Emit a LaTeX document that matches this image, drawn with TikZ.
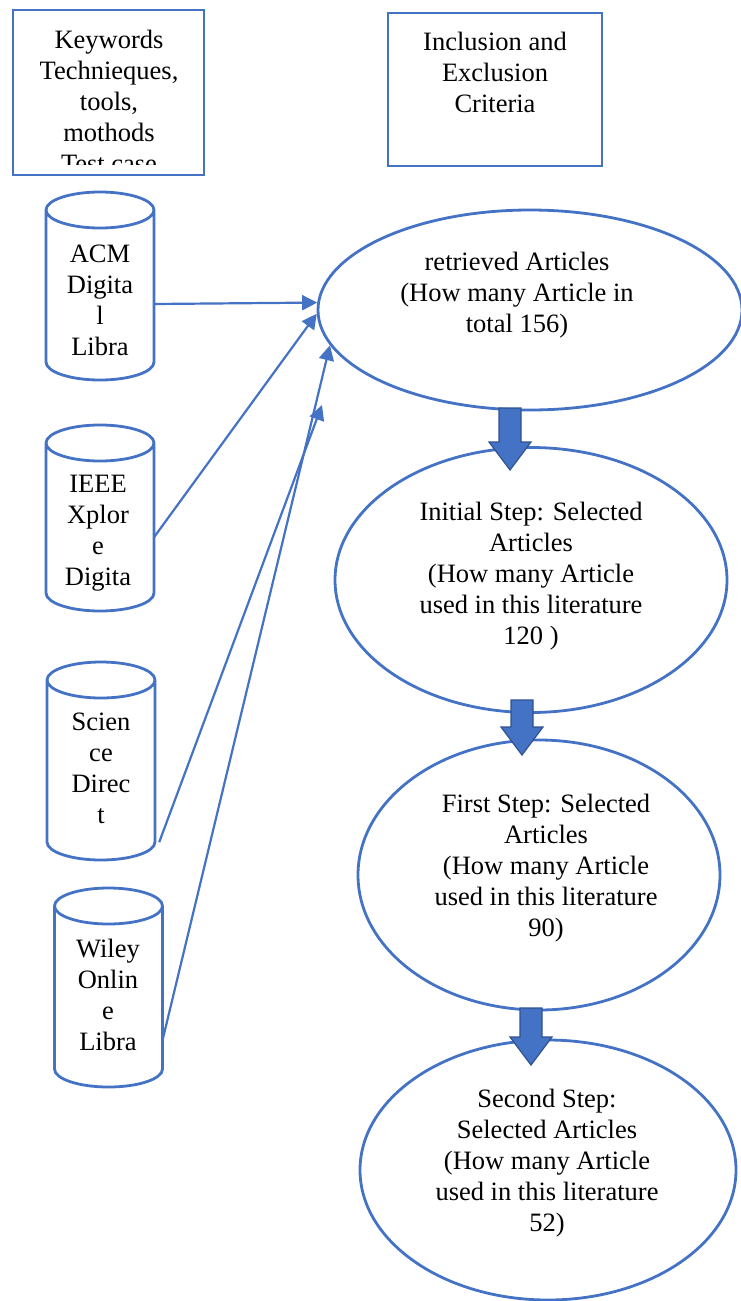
\documentclass[tikz,border=0pt]{standalone}
\usepackage{fontspec}
\setmainfont{Liberation Serif}
\usetikzlibrary{shapes.geometric, arrows.meta}
\definecolor{wordBlue}{HTML}{4472C4}
\definecolor{wordDark}{HTML}{2F528F}
\tikzset{
	outline/.style={draw=wordBlue, line width=2.8pt},
	label text/.style={align=center, inner sep=0pt, font=\fontsize{26.5}{31}\selectfont},
	link/.style={wordBlue, line width=2.2pt, -{Triangle[length=15pt, width=15pt]}},
	block arrow/.style={fill=wordBlue, draw=wordDark, line width=1.2pt, line join=miter}
}
\newcommand{\database}[5]{
	\path (#1,#2) node[minimum width=108pt, minimum height=2*#3pt, inner sep=0pt](#4){};
	\draw[outline, shift={(#1,#2)}] (-54,-#3+18) -- (-54,#3-18)
		arc[start angle=180, end angle=0, x radius=54, y radius=18] -- (54,-#3+18)
		(0,-#3+18) ellipse[x radius=54, y radius=18];
}
\newcommand{\stepEllipse}[5]{
	\path (#1,#2) node[outline, ellipse, minimum width=#3pt, minimum height=#4pt](#5){};
}
\newcommand{\blockArrow}[3]{
	\draw[block arrow] (#1-11,#2) -- (#1+11,#2) -- (#1+11,#3-28) -- (#1+21,#3-28)
		-- (#1,#3) -- (#1-21,#3-28) -- (#1-11,#3-28) -- cycle;
}

\begin{document}
\begin{tikzpicture}[x=1pt, y=-1pt]
	\useasboundingbox (0,0) rectangle (740,1301);

	% top boxes
	\path (108.5,92.5) node[outline, minimum width=191pt, minimum height=165pt](kw){};
	\begin{scope}
		\clip (13,10) rectangle (204,164);
		\path (109,101.5) node[label text](kwText){Keywords\\Technieques,\\tools,\\mothods\\Test case};
	\end{scope}
	\path (495,89.5) node[outline, minimum width=214pt, minimum height=153pt](ic){};
	\path (495,72) node[label text](icText){Inclusion and\\Exclusion\\Criteria};

	% sources
	\database{100}{286}{94}{acm};
	\path (100,300) node[label text](acmText){ACM\\Digita\\l\\Libra};
	\database{100}{518}{93}{ieee};
	\path (98,533.5) node[label text](ieeeText){IEEE\\Xplor\\e\\Digita};
	\database{101}{761}{99}{sd};
	\path (101,768.5) node[label text](sdText){Scien\\ce\\Direc\\t};
	\database{108.5}{987.5}{99.5}{wiley};
	\path (108,995) node[label text](wileyText){Wiley\\Onlin\\e\\Libra};

	% selection steps
	\stepEllipse{530}{310}{424}{200}{e1};
	\path (517,295) node[label text](e1Text){retrieved Articles\\(How many Article in\\total 156)};
	\stepEllipse{531}{580}{392}{265}{e2};
	\path (531,576) node[label text](e2Text){Initial Step: Selected\\Articles\\(How many Article\\used in this literature\\120 )};
	\stepEllipse{539}{875}{362}{270}{e3};
	\path (546,868) node[label text](e3Text){First Step: Selected\\Articles\\(How many Article\\used in this literature\\90)};
	\stepEllipse{548}{1170}{376}{260}{e4};
	\path (547,1163) node[label text](e4Text){Second Step:\\Selected Articles\\(How many Article\\used in this literature\\52)};

	\blockArrow{510}{408}{470};
	\blockArrow{522}{700}{755};
	\blockArrow{531}{1008}{1065};

	\coordinate (sdEnd) at (322,405);
	\draw[link] ([yshift=-18pt]acm.east) -- (e1.178);
	\draw[link] ([yshift=-19pt]ieee.east) -- (e1.181);
	\draw[link] ([xshift=4pt, yshift=18pt]sd.south east) -- (sdEnd);
	\draw[link] ([yshift=-52pt]wiley.east) -- (e1.190);
\end{tikzpicture}
\end{document}
